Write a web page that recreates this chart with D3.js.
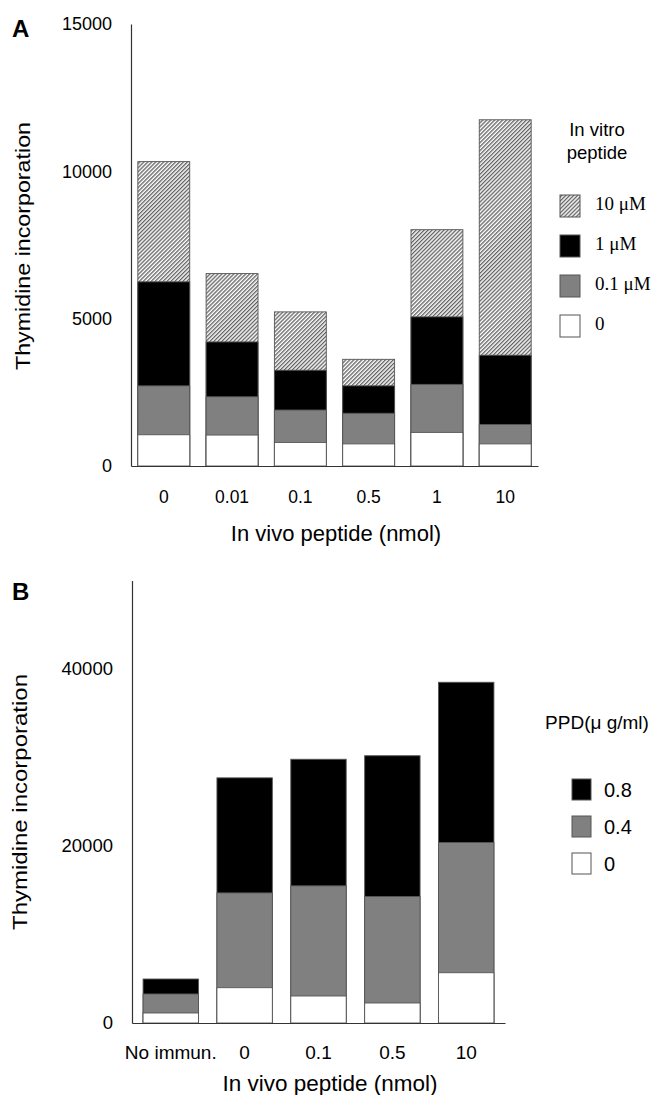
<html>
<head>
    <script src="https://d3js.org/d3.v7.min.js"></script>
    <style>
        body { margin: 0; background: #fff; }
        text { font-family: "Liberation Sans", Arial, sans-serif; fill: #000; }
        .serif { font-family: "Liberation Serif", "Times New Roman", serif; }
    </style>
</head>
<body>
<svg id="chart" width="655" height="1095"></svg>
<script>
    // Panel A data: in vivo dose groups, one array per in vitro concentration (overlaid bars)
    const doseA = ["0", "0.01", "0.1", "0.5", "1", "10"];
    const vitroLabels = ["10 \u03bcM", "1 \u03bcM", "0.1 \u03bcM", "0"];
    const a10 = [10330, 6530, 5230, 3620, 8020, 11750];
    const a1 = [6250, 4210, 3250, 2720, 5060, 3760];
    const a01 = [2720, 2350, 1900, 1790, 2770, 1410];
    const a0 = [1060, 1050, 800, 750, 1140, 750];
    const ticksA = [0, 5000, 10000, 15000];

    // Panel B data: PPD concentrations
    const doseB = ["No immun.", "0", "0.1", "0.5", "10"];
    const ppdLabels = ["0.8", "0.4", "0"];
    const b08 = [4970, 27700, 29800, 30200, 38500];
    const b04 = [3280, 14700, 15500, 14300, 20400];
    const b0 = [1130, 3990, 3050, 2260, 5680];
    const ticksB = [0, 20000, 40000];

    const svg = d3.select("#chart");

    // hatch for the 10 uM series
    svg.append("defs").append("pattern")
        .attr("id", "hatch")
        .attr("patternUnits", "userSpaceOnUse")
        .attr("width", 2.8).attr("height", 2.8)
        .attr("patternTransform", "rotate(45)")
        .call(p => {
            p.append("rect").attr("width", 2.8).attr("height", 2.8).attr("fill", "#fff");
            p.append("line").attr("x1", 0.7).attr("y1", 0).attr("x2", 0.7).attr("y2", 2.8)
                .attr("stroke", "#4a4a4a").attr("stroke-width", 1.15);
        });

    const fills = { hatch: "url(#hatch)", black: "#000", gray: "#808080", white: "#fff" };

    function panel(opts) {
        const g = svg.append("g");
        const x = d3.scaleBand().domain(opts.cats).range(opts.xRange)
            .paddingInner(opts.pi).paddingOuter(opts.po);
        const y = d3.scaleLinear().domain(opts.yDomain).range(opts.yRange);

        // bars: draw largest series first, smaller ones on top
        opts.series.forEach(s => {
            g.selectAll(null).data(s.values).join("rect")
                .attr("x", (d, i) => x(opts.cats[i]))
                .attr("width", x.bandwidth())
                .attr("y", d => y(d))
                .attr("height", d => y(0) - y(d))
                .attr("fill", s.fill)
                .attr("stroke", "#555")
                .attr("stroke-width", 0.9);
        });

        // y axis
        const ya = g.append("g").attr("transform", `translate(${opts.xRange[0]},0)`)
            .call(d3.axisLeft(y).tickValues(opts.ticks).tickSize(0).tickPadding(opts.yPad).tickFormat(d3.format("d")));
        ya.select(".domain").attr("stroke", "#333").attr("stroke-width", 1.2);
        ya.selectAll("text").attr("font-size", opts.tickSize).attr("fill", "#000")
            .attr("font-family", "'Liberation Sans', Arial, sans-serif");

        // x axis
        const xa = g.append("g").attr("transform", `translate(0,${y(0)})`)
            .call(d3.axisBottom(x).tickSize(0).tickPadding(opts.xPad));
        xa.select(".domain").attr("stroke", "#333").attr("stroke-width", 1.2);
        xa.selectAll("text").attr("font-size", opts.xTickSize).attr("fill", "#000")
            .attr("font-family", "'Liberation Sans', Arial, sans-serif");

        // titles
        g.append("text").attr("x", opts.titleX).attr("y", opts.titleY)
            .attr("text-anchor", "middle").attr("font-size", opts.titleSize)
            .text("In vivo peptide (nmol)");
        g.append("text")
            .attr("transform", `translate(${opts.yLabX},${opts.yLabY}) rotate(-90)`)
            .attr("text-anchor", "middle").attr("font-size", 20)
            .attr("textLength", opts.yLabLen).attr("lengthAdjust", "spacingAndGlyphs")
            .text("Thymidine incorporation");
        g.append("text").attr("x", 12).attr("y", opts.letterY)
            .attr("font-size", 24).attr("font-weight", "bold").text(opts.letter);
        return g;
    }

    // Panel A
    const gA = panel({
        cats: doseA, xRange: [131, 538], pi: 0.24, po: 0.1,
        yDomain: [0, 15000], yRange: [466, 24],
        series: [
            { values: a10, fill: fills.hatch },
            { values: a1, fill: fills.black },
            { values: a01, fill: fills.gray },
            { values: a0, fill: fills.white }
        ],
        ticks: ticksA, yPad: 19, tickSize: 18, xPad: 25, xTickSize: 17.5,
        titleX: 336, titleY: 541, titleSize: 22,
        yLabX: 30, yLabY: 246, yLabLen: 248,
        letter: "A", letterY: 37
    });

    // Legend A
    gA.append("text").attr("x", 597).attr("y", 136).attr("text-anchor", "middle")
        .attr("font-size", 18.5).text("In vitro");
    gA.append("text").attr("x", 597).attr("y", 159).attr("text-anchor", "middle")
        .attr("font-size", 18.5).text("peptide");
    const legA = [fills.hatch, fills.black, fills.gray, fills.white];
    gA.selectAll(null).data(vitroLabels).join("rect")
        .attr("x", 560).attr("y", (d, i) => 195 + i * 40)
        .attr("width", 20).attr("height", 22)
        .attr("fill", (d, i) => legA[i]).attr("stroke", "#555").attr("stroke-width", 1);
    gA.selectAll(null).data(vitroLabels).join("text")
        .attr("class", "serif")
        .attr("x", 595).attr("y", (d, i) => 210 + i * 40)
        .attr("font-size", 19).text(d => d);

    // Panel B
    const gB = panel({
        cats: doseB, xRange: [132, 505], pi: 0.25, po: 0.15,
        yDomain: [0, 50000], yRange: [1023, 580.5],
        series: [
            { values: b08, fill: fills.black },
            { values: b04, fill: fills.gray },
            { values: b0, fill: fills.white }
        ],
        ticks: ticksB, yPad: 19, tickSize: 18.5, xPad: 23, xTickSize: 19,
        titleX: 330, titleY: 1091, titleSize: 22.5,
        yLabX: 27, yLabY: 802, yLabLen: 256,
        letter: "B", letterY: 600
    });

    // Legend B
    gB.append("text").attr("x", 597).attr("y", 729).attr("text-anchor", "middle")
        .attr("font-size", 19).text("PPD(\u03bc g/ml)");
    const legB = [fills.black, fills.gray, fills.white];
    gB.selectAll(null).data(ppdLabels).join("rect")
        .attr("x", 572).attr("y", (d, i) => 779 + i * 37)
        .attr("width", 19).attr("height", 21)
        .attr("fill", (d, i) => legB[i]).attr("stroke", "#555").attr("stroke-width", 1);
    gB.selectAll(null).data(ppdLabels).join("text")
        .attr("x", 604).attr("y", (d, i) => 797 + i * 37)
        .attr("font-size", 20).text(d => d);
</script>
</body>
</html>
